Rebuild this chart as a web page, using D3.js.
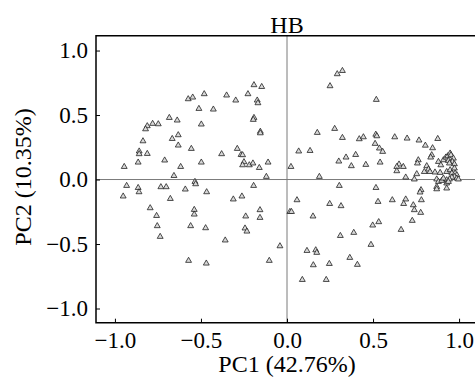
<!DOCTYPE html>
<html>
<head>
<meta charset="utf-8">
<script src="https://cdn.jsdelivr.net/npm/d3@7"></script>
<style>
    body { margin: 0; background: #fff; }
    svg { display: block; font-family: "Liberation Serif", "Times New Roman", serif; }
</style>
</head>
<body>
<svg id="chart" width="475" height="378"></svg>
<script>
// Loadings
const pc1 = [
    -0.192, -0.147, -0.574, -0.548, -0.481, -0.351, -0.298, -0.227, -0.173, -0.169,
    -0.512, -0.428, -0.684, -0.638, -0.192, -0.196, -0.781, -0.748, -0.812, -0.822,
    -0.498, -0.155, -0.155, -0.632, -0.667, -0.837, -0.632, -0.556, -0.289, -0.859,
    -0.859, -0.812, -0.380, -0.267, -0.258, -0.865, -0.711, -0.498, -0.250, -0.258,
    -0.219, -0.198, -0.110, -0.946, -0.618, -0.161, -0.657, -0.120, -0.932, -0.865,
    -0.860, -0.733, -0.702, -0.591, -0.535, -0.531, -0.467, -0.194, -0.952, -0.678,
    -0.312, -0.262, -0.795, -0.758, -0.539, -0.539, -0.240, -0.157, -0.157, -0.754,
    -0.560, -0.473, -0.244, -0.233, -0.737, -0.359, -0.041, -0.572, -0.469, -0.103,
    0.304, 0.517, 0.058, 0.248, 0.314, 0.529, 0.612, 0.690, 0.678, 0.734,
    0.740, 0.781, 0.777, 0.017, 0.026, 0.151, 0.533, 0.498, 0.728, 0.663,
    0.388, 0.310, 0.488, 0.116, 0.167, 0.173, 0.365, 0.153, 0.246, 0.409,
    0.089, 0.228, 0.292, 0.322, 0.250, 0.519, 0.176, 0.277, 0.322, 0.420,
    0.444, 0.516, 0.522, 0.626, 0.698, 0.767, 0.876, 0.512, 0.537, 0.556,
    0.804, 0.846, 0.068, 0.134, 0.399, 0.343, 0.301, 0.458, 0.374, 0.541,
    0.023, 0.188, 0.651, 0.638, 0.676, 0.638, 0.690, 0.740, 0.754, 0.763,
    0.758, 0.841, 0.835, 0.880, 0.894, 0.909, 0.923, 0.934, 0.948, 0.953,
    0.967, 0.961, 0.973, 0.938, 0.944, 0.812, 0.822, 0.798, 0.831, 0.860,
    0.890, 0.928, 0.948, 0.958, 0.973, 0.977, 0.987, 0.973, 0.987, 0.996,
    0.958, 0.944, 0.928, 0.870, 0.880, 0.899, 0.909, 0.928, 0.938, 0.870,
    0.870, 0.928, 0.779, 0.773
];
const pc2 = [
    0.733, 0.719, 0.624, 0.637, 0.663, 0.653, 0.614, 0.663, 0.614, 0.593,
    0.549, 0.544, 0.479, 0.459, 0.479, 0.464, 0.433, 0.430, 0.415, 0.391,
    0.428, 0.372, 0.360, 0.345, 0.316, 0.298, 0.265, 0.239, 0.239, 0.219,
    0.198, 0.200, 0.198, 0.192, 0.190, 0.133, 0.149, 0.133, 0.136, 0.112,
    0.112, 0.126, 0.133, 0.099, 0.099, 0.091, 0.029, 0.022, -0.048, -0.064,
    -0.097, -0.058, -0.058, -0.076, -0.017, -0.035, -0.097, -0.048, -0.130, -0.149,
    -0.153, -0.130, -0.221, -0.281, -0.234, -0.270, -0.285, -0.236, -0.296, -0.360,
    -0.360, -0.376, -0.378, -0.402, -0.443, -0.471, -0.516, -0.629, -0.650, -0.629,
    -0.048, -0.064, -0.159, -0.188, -0.205, -0.172, -0.159, -0.153, -0.188, -0.198,
    -0.236, -0.159, -0.257, -0.250, -0.250, -0.285, -0.329, -0.355, -0.319, -0.389,
    -0.412, -0.436, -0.505, -0.552, -0.547, -0.567, -0.606, -0.663, -0.653, -0.660,
    -0.777, -0.777, 0.818, 0.843, 0.725, 0.619, 0.363, 0.394, 0.324, 0.314,
    0.329, 0.349, 0.337, 0.329, 0.319, 0.304, 0.316, 0.278, 0.242, 0.216,
    0.264, 0.244, 0.219, 0.223, 0.192, 0.172, 0.141, 0.115, 0.105, 0.133,
    0.099, 0.022, 0.118, 0.099, 0.099, 0.066, 0.017, 0.002, 0.043, 0.151,
    0.126, 0.190, 0.172, 0.138, 0.112, 0.151, 0.172, 0.182, 0.203, 0.190,
    0.164, 0.138, 0.120, 0.146, 0.126, 0.105, 0.079, 0.060, 0.060, 0.056,
    0.053, 0.060, 0.074, 0.048, 0.087, 0.048, 0.035, 0.022, 0.009, 0.002,
    0.017, 0.002, -0.004, 0.002, -0.017, -0.009, 0.009, -0.029, -0.017, -0.056,
    -0.074, -0.068, -0.081, -0.099
];
const xTicks = [-1.0, -0.5, 0.0, 0.5, 1.0];
const yTicks = [-1.0, -0.5, 0.0, 0.5, 1.0];
const title = "HB";
const xTitle = "PC1 (42.76%)";
const yTitle = "PC2 (10.35%)";

const svg = d3.select("#chart");
const frame = { left: 96, top: 35.7, right: 478, bottom: 322.7 };

const x = d3.scaleLinear().domain([-1.11, 1.11]).range([frame.left, frame.right]);
const y = d3.scaleLinear().domain([-1.11, 1.115]).range([frame.bottom, frame.top]);
const fmt = d3.format(".1f");

// zero reference lines
svg.append("line")
    .attr("x1", x(0)).attr("x2", x(0))
    .attr("y1", frame.top).attr("y2", frame.bottom)
    .attr("stroke", "#7a7a7a").attr("stroke-width", 1);
svg.append("line")
    .attr("x1", frame.left).attr("x2", frame.right)
    .attr("y1", y(0)).attr("y2", y(0))
    .attr("stroke", "#7a7a7a").attr("stroke-width", 1);

// axes, ticks pointing inward
const gx = svg.append("g")
    .attr("transform", `translate(0,${frame.bottom})`)
    .call(d3.axisBottom(x).tickValues(xTicks).tickFormat(fmt)
        .tickSizeInner(-4).tickSizeOuter(0).tickPadding(9));
const gy = svg.append("g")
    .attr("transform", `translate(${frame.left},0)`)
    .call(d3.axisLeft(y).tickValues(yTicks).tickFormat(fmt)
        .tickSizeInner(-4).tickSizeOuter(0).tickPadding(8));
[gx, gy].forEach(g => {
    g.attr("font-family", null).attr("font-size", null);
    g.select(".domain").remove();
    g.selectAll(".tick line").attr("stroke", "#000").attr("stroke-width", 1);
    g.selectAll(".tick text")
        .attr("fill", "#000")
        .style("font-family", "'Liberation Serif', serif")
        .style("font-size", "23px");
});

// frame
svg.append("path")
    .attr("d", `M${frame.right},${frame.top}H${frame.left}V${frame.bottom}H${frame.right}`)
    .attr("fill", "none").attr("stroke", "#000").attr("stroke-width", 1.5);

// points
const tri = d3.symbol().type(d3.symbolTriangle).size(15);
svg.append("g")
    .selectAll("path")
    .data(d3.range(pc1.length))
    .join("path")
    .attr("transform", i => `translate(${x(pc1[i])},${y(pc2[i])})`)
    .attr("d", tri)
    .attr("fill", "#d8d8d8")
    .attr("stroke", "#222")
    .attr("stroke-width", 0.8);

// titles
svg.append("text")
    .attr("x", x(0)).attr("y", 33)
    .attr("text-anchor", "middle")
    .style("font-size", "24px")
    .text(title);
svg.append("text")
    .attr("x", x(0)).attr("y", 372)
    .attr("text-anchor", "middle")
    .style("font-size", "24px")
    .text(xTitle);
svg.append("text")
    .attr("transform", `translate(31,177) rotate(-90)`)
    .attr("text-anchor", "middle")
    .style("font-size", "24px")
    .text(yTitle);
</script>
</body>
</html>
